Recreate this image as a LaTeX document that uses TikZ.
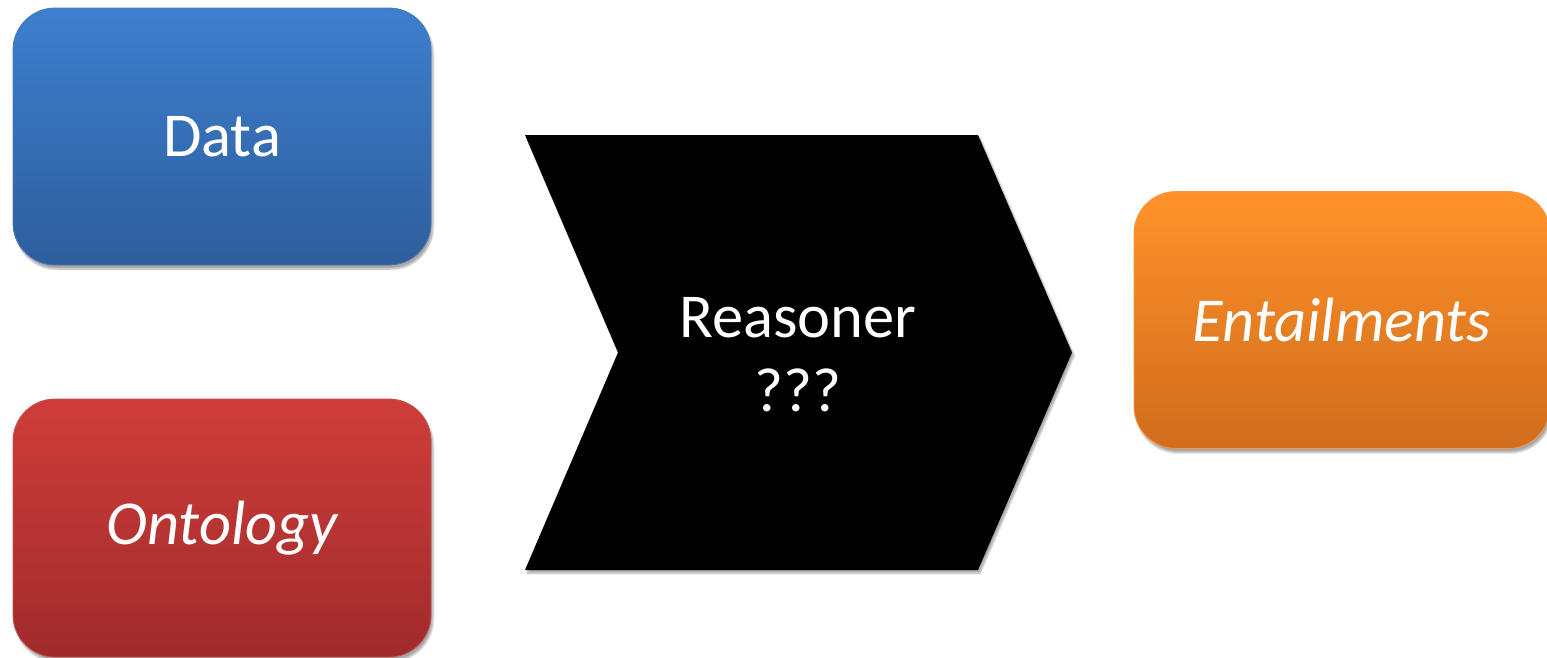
\documentclass[tikz,border=0pt]{standalone}
\usepackage{fontspec}
\setmainfont{Carlito}
\usetikzlibrary{shadows.blur}
\definecolor{bluetop}{HTML}{3D7FCE}
\definecolor{bluebot}{HTML}{2E5E9C}
\definecolor{blueedge}{HTML}{4677B8}
\definecolor{redtop}{HTML}{CF3D3A}
\definecolor{redbot}{HTML}{A02B2B}
\definecolor{rededge}{HTML}{C0504D}
\definecolor{orangetop}{HTML}{FF922A}
\definecolor{orangebot}{HTML}{D06C1C}
\definecolor{orangeedge}{HTML}{F79646}
\tikzset{
  box/.style={rectangle, rounded corners=42pt, minimum width=418pt, minimum height=257pt,
    inner sep=0pt, line width=0.8pt, text=white, font=\fontsize{62.5}{74}\selectfont,
    blur shadow={shadow xshift=2pt, shadow yshift=-4pt, shadow blur steps=6, shadow opacity=35}},
  chev/.style={fill=black, blur shadow={shadow xshift=2pt, shadow yshift=-3pt, shadow blur steps=6, shadow opacity=35}},
  chevtext/.style={text=white, align=center, font=\fontsize{62.5}{74}\selectfont, inner sep=0pt}
}
\begin{document}
\begin{tikzpicture}[x=1pt,y=-1pt]
\useasboundingbox (0,0) rectangle (1547,657);
\clip (0,0) rectangle (1547,657);
\node[box, top color=bluetop, bottom color=bluebot, draw=blueedge] (data) at (222,136.5) {Data};
\node[box, top color=redtop, bottom color=redbot, draw=rededge, minimum height=258pt] (onto) at (222,528) {\itshape Ontology};
\node[box, top color=orangetop, bottom color=orangebot, draw=orangeedge, minimum width=416pt] (ent) at (1342,320) {\itshape Entailments};
\path[chev] (525,135) -- (978,135) -- (1072,352.5) -- (978,570) -- (525,570) -- (618,352.5) -- cycle;
\node[chevtext] (reas) at (798,355) {Reasoner\\???};
\end{tikzpicture}
\end{document}
